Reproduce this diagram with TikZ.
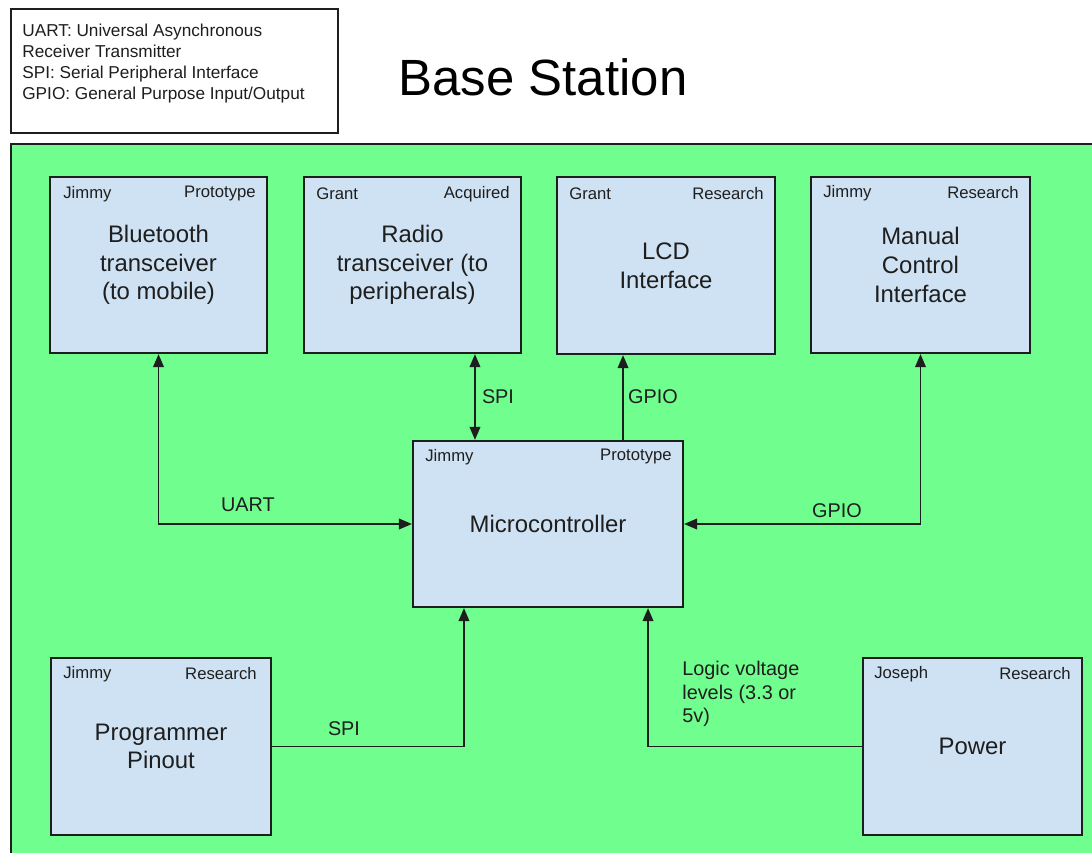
\documentclass[tikz,border=0pt]{standalone}
\usepackage{fontspec}
\setmainfont{Liberation Sans}
\usetikzlibrary{arrows.meta}

\definecolor{panelgreen}{RGB}{112,255,143}
\definecolor{boxblue}{RGB}{207,226,243}
\definecolor{inkgray}{RGB}{30,30,30}

\begin{document}
\begin{tikzpicture}[x=0.02cm, y=-0.02cm,
	block/.style={draw=inkgray, line width=1.2pt, fill=boxblue, inner sep=0pt, align=center,
		font=\fontsize{13.6}{16.3}\selectfont, text=inkgray},
	tag/.style={inner sep=0pt, font=\fontsize{9.5}{11}\selectfont, text=inkgray},
	wire/.style={line width=1.1pt, draw=inkgray},
	wirelabel/.style={inner sep=0pt, font=\fontsize{11.3}{13.3}\selectfont, text=inkgray, align=left},
	>={Triangle[length=2.6mm, width=2.1mm]}]
	\useasboundingbox (0,0) rectangle (1092,852);
	\clip (0,0) rectangle (1092,852);
	\fill[white] (0,0) rectangle (1092,852);

	% legend and title
	\node[draw=inkgray, line width=1.2pt, minimum width=6.54cm, minimum height=2.48cm, anchor=north west, inner sep=0pt] (legend) at (10,8) {};
	\node[tag, anchor=north west, align=left, font=\fontsize{9.8}{11.9}\selectfont] (legendtext) at (22,24)
		{UART: Universal Asynchronous\\ Receiver Transmitter\\ SPI: Serial Peripheral Interface\\ GPIO: General Purpose Input/Output};
	\node[inner sep=0pt, font=\fontsize{29}{34}\selectfont, text=black] (title) at (543,77) {Base Station};

	% green panel
	\node[draw=inkgray, line width=1.2pt, fill=panelgreen, minimum width=22cm, minimum height=14.4cm, anchor=north west, inner sep=0pt] (panel) at (10,143) {};

	% blocks
	\node[block, minimum width=4.34cm, minimum height=3.52cm] (bt) at (158.5,265) {Bluetooth\\ transceiver\\ (to mobile)};
	\node[block, minimum width=4.34cm, minimum height=3.52cm] (rd) at (412.5,265) {Radio\\ transceiver (to\\ peripherals)};
	\node[block, minimum width=4.36cm, minimum height=3.54cm] (lcd) at (666,265.5) {LCD\\ Interface};
	\node[block, minimum width=4.38cm, minimum height=3.52cm] (man) at (920.5,265) {Manual\\ Control\\ Interface};
	\node[block, minimum width=5.4cm, minimum height=3.32cm] (mc) at (548,524) {Microcontroller};
	\node[block, minimum width=4.4cm, minimum height=3.54cm] (pp) at (161,746.5) {Programmer\\ Pinout};
	\node[block, minimum width=4.38cm, minimum height=3.54cm] (pw) at (972.5,746.5) {Power};

	% owners and status
	\node[tag, anchor=west] (bt-who) at ([shift={(14,18)}]bt.north west) {Jimmy};
	\node[tag, anchor=east] (bt-state) at ([shift={(-12,18)}]bt.north east) {Prototype};
	\node[tag, anchor=west] (rd-who) at ([shift={(13,18)}]rd.north west) {Grant};
	\node[tag, anchor=east] (rd-state) at ([shift={(-12,18)}]rd.north east) {Acquired};
	\node[tag, anchor=west] (lcd-who) at ([shift={(13,18)}]lcd.north west) {Grant};
	\node[tag, anchor=east] (lcd-state) at ([shift={(-12,18)}]lcd.north east) {Research};
	\node[tag, anchor=west] (man-who) at ([shift={(13,17)}]man.north west) {Jimmy};
	\node[tag, anchor=east] (man-state) at ([shift={(-12,17)}]man.north east) {Research};
	\node[tag, anchor=west] (mc-who) at ([shift={(13,17)}]mc.north west) {Jimmy};
	\node[tag, anchor=east] (mc-state) at ([shift={(-12,17)}]mc.north east) {Prototype};
	\node[tag, anchor=west] (pp-who) at ([shift={(13,17)}]pp.north west) {Jimmy};
	\node[tag, anchor=east] (pp-state) at ([shift={(-15,17)}]pp.north east) {Research};
	\node[tag, anchor=west] (pw-who) at ([shift={(12,17)}]pw.north west) {Joseph};
	\node[tag, anchor=east] (pw-state) at ([shift={(-12,17)}]pw.north east) {Research};

	% ports on the microcontroller
	\coordinate (mc-spi) at ([shift={(63,0)}]mc.north west);
	\coordinate (mc-gpio) at ([shift={(-61,0)}]mc.north east);
	\coordinate (mc-prog) at ([shift={(52,0)}]mc.south west);
	\coordinate (mc-pwr) at ([shift={(-36,0)}]mc.south east);

	% connections
	\draw[wire, <->] (bt.south) |- (mc.west);
	\draw[wire, <->] (mc-spi) -- (mc-spi |- rd.south);
	\draw[wire, ->] (mc-gpio) -- (mc-gpio |- lcd.south);
	\draw[wire, <->] (mc.east) -| (man.south);
	\draw[wire, ->] (pp.east) -| (mc-prog);
	\draw[wire, ->] (pw.west) -| (mc-pwr);

	\node[wirelabel] (l-uart) at (248,505) {UART};
	\node[wirelabel] (l-spi1) at (498,397) {SPI};
	\node[wirelabel] (l-gpio1) at (653,397) {GPIO};
	\node[wirelabel] (l-gpio2) at (837,511) {GPIO};
	\node[wirelabel] (l-spi2) at (344,729) {SPI};
	\node[wirelabel, anchor=north west] (l-logic) at (682,661) {Logic voltage\\ levels (3.3 or\\ 5v)};
\end{tikzpicture}
\end{document}
